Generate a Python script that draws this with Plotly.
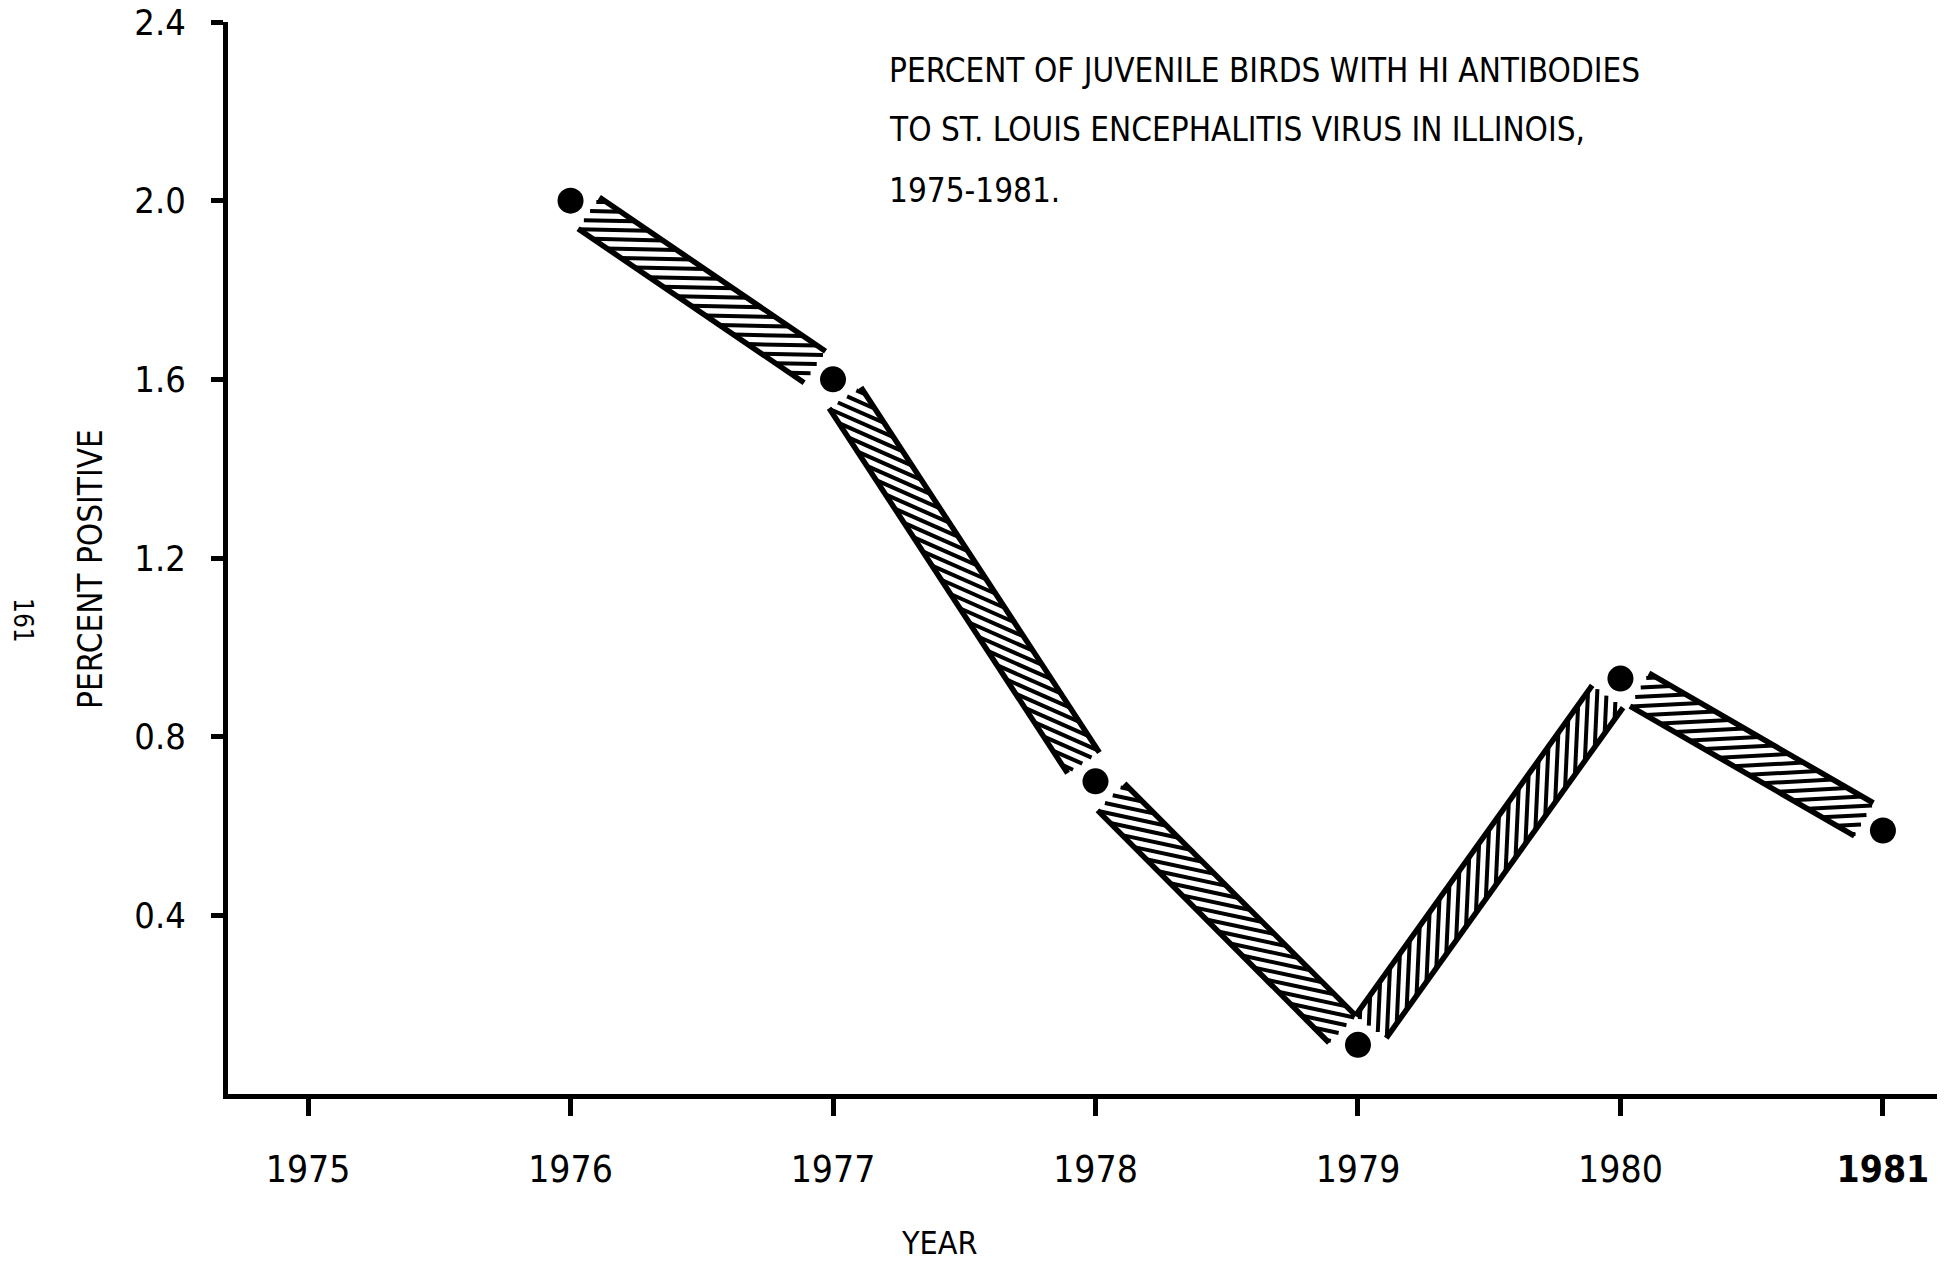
import math
import plotly.graph_objects as go

# ---------------- data ----------------
years = [1976, 1977, 1978, 1979, 1980, 1981]
percent_positive = [2.0, 1.6, 0.7, 0.11, 0.93, 0.59]

x_tick_years = [1975, 1976, 1977, 1978, 1979, 1980, 1981]
x_tick_labels = ["1975", "1976", "1977", "1978", "1979", "1980", "<b>1981</b>"]
y_tick_values = [0.4, 0.8, 1.2, 1.6, 2.0, 2.4]
y_tick_labels = ["0.4", "0.8", "1.2", "1.6", "2.0", "2.4"]

title_lines = [
    "PERCENT OF JUVENILE BIRDS WITH HI ANTIBODIES",
    "TO ST. LOUIS ENCEPHALITIS VIRUS IN ILLINOIS,",
    "1975-1981.",
]
x_title = "YEAR"
y_title = "PERCENT POSITIVE"
page_number = "161"

# ---------------- layout geometry ----------------
W, H = 1950, 1267
ML, MT = 228, 22
MR = W - 1937
MB = H - 1094
PW, PH = W - ML - MR, H - MT - MB
XR = [1974.695, 1981.206]
YR = [0.0, 2.4]
FONT = "Liberation Sans Narrow, Arial Narrow, DejaVu Sans Condensed, sans-serif"


def to_px(x, y):
    px = ML + (x - XR[0]) / (XR[1] - XR[0]) * PW
    py = MT + (YR[1] - y) / (YR[1] - YR[0]) * PH
    return px, py


def to_data(px, py):
    x = XR[0] + (px - ML) / PW * (XR[1] - XR[0])
    y = YR[1] - (py - MT) / PH * (YR[1] - YR[0])
    return x, y


def paper(px, py):
    return (px - ML) / PW, (H - MB - py) / PH


# ---------------- hatched bands between points ----------------
EDGE = 19.0        # half distance between the two outline strokes (px)
GAP = 22.0         # gap between a point and a band end (px)
SPACING = 17.0     # hatch spacing along the band (px)
ANG = math.radians(33)  # hatch angle relative to the band

edge_x, edge_y, hat_x, hat_y = [], [], [], []
for i in range(len(years) - 1):
    ax, ay = to_px(years[i], percent_positive[i])
    bx, by = to_px(years[i + 1], percent_positive[i + 1])
    ay, by = -ay, -by  # y pointing up
    L = math.hypot(bx - ax, by - ay)
    ux, uy = (bx - ax) / L, (by - ay) / L
    nx, ny = -uy, ux
    s0, s1 = GAP, L - GAP

    for o in (EDGE, -EDGE):
        for t in (s0, s1):
            px = ax + t * ux + o * nx
            py = ay + t * uy + o * ny
            dx, dy = to_data(px, -py)
            edge_x.append(dx)
            edge_y.append(dy)
        edge_x.append(None)
        edge_y.append(None)

    hx = math.cos(ANG) * ux + math.sin(ANG) * nx
    hy = math.cos(ANG) * uy + math.sin(ANG) * ny
    smax = EDGE / math.sin(ANG)
    t = s0 - smax * math.cos(ANG) + SPACING / 2
    while t < s1 + smax * math.cos(ANG):
        lo = max(-smax, (s0 - t) / math.cos(ANG))
        hi = min(smax, (s1 - t) / math.cos(ANG))
        if hi - lo > 3:
            cx, cy = ax + t * ux, ay + t * uy
            for s in (lo, hi):
                dx, dy = to_data(cx + s * hx, -(cy + s * hy))
                hat_x.append(dx)
                hat_y.append(dy)
            hat_x.append(None)
            hat_y.append(None)
        t += SPACING

fig = go.Figure()
fig.add_trace(go.Scatter(x=hat_x, y=hat_y, mode="lines",
                         line=dict(color="black", width=4),
                         hoverinfo="skip", showlegend=False))
fig.add_trace(go.Scatter(x=edge_x, y=edge_y, mode="lines",
                         line=dict(color="black", width=5.5),
                         hoverinfo="skip", showlegend=False))
fig.add_trace(go.Scatter(x=years, y=percent_positive, mode="markers",
                         marker=dict(color="black", size=26),
                         showlegend=False))

# ---------------- annotations ----------------
annotations = []
title_y = [70, 129, 190]
for line, ty in zip(title_lines, title_y):
    fx, fy = paper(887, ty)
    annotations.append(dict(text=line, x=fx, y=fy, xref="paper", yref="paper",
                            xanchor="left", yanchor="middle", showarrow=False,
                            font=dict(family=FONT, size=33, color="black")))
fx, fy = paper(939, 1243)
annotations.append(dict(text=x_title, x=fx, y=fy, xref="paper", yref="paper",
                        xanchor="center", yanchor="middle", showarrow=False,
                        font=dict(family=FONT, size=32, color="black")))
fx, fy = paper(90, 569)
annotations.append(dict(text=y_title, x=fx, y=fy, xref="paper", yref="paper",
                        xanchor="center", yanchor="middle", showarrow=False,
                        textangle=-90,
                        font=dict(family=FONT, size=33, color="black")))
fx, fy = paper(23, 620)
annotations.append(dict(text=page_number, x=fx, y=fy, xref="paper", yref="paper",
                        xanchor="center", yanchor="middle", showarrow=False,
                        textangle=90,
                        font=dict(family=FONT, size=26, color="black")))

fig.update_layout(
    width=W, height=H,
    margin=dict(l=ML, r=MR, t=MT, b=MB, autoexpand=False),
    paper_bgcolor="white", plot_bgcolor="white",
    annotations=annotations,
    xaxis=dict(range=XR, showgrid=False, zeroline=False, showline=True,
               linecolor="black", linewidth=5, ticks="outside", ticklen=17,
               tickwidth=5, tickcolor="black", tickvals=x_tick_years,
               ticktext=x_tick_labels, ticklabelstandoff=22,
               ticklabeloverflow="allow",
               tickfont=dict(family=FONT, size=37, color="black")),
    yaxis=dict(range=YR, showgrid=False, zeroline=False, showline=True,
               linecolor="black", linewidth=5, ticks="outside", ticklen=12,
               tickwidth=5, tickcolor="black", tickvals=y_tick_values,
               ticktext=y_tick_labels, ticklabelstandoff=18,
               ticklabeloverflow="allow",
               tickfont=dict(family=FONT, size=36, color="black")),
)

fig.write_html("out.html",
               config={"displayModeBar": False},
               post_script="document.body.style.margin='0px';"
                           "document.body.style.overflow='hidden';")
